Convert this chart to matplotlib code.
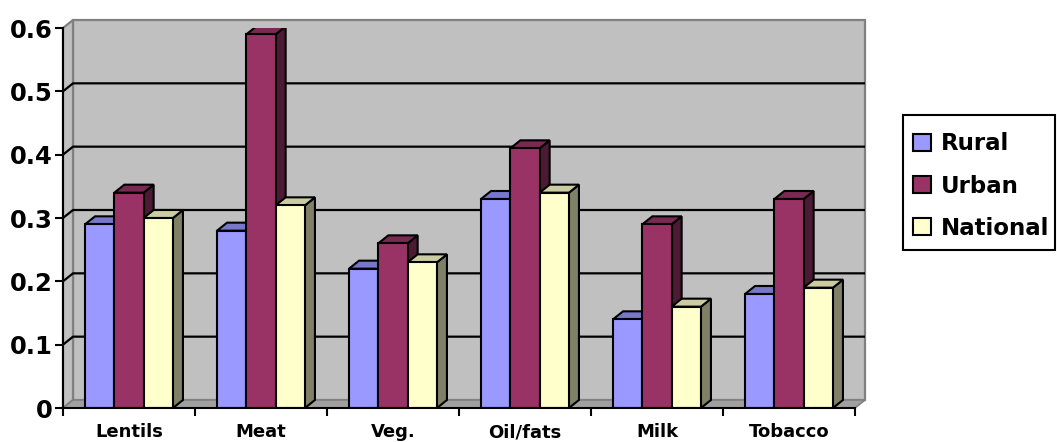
import matplotlib.pyplot as plt
from matplotlib.patches import Polygon, Rectangle, Patch
import numpy as np

# Data
categories = ["Lentils", "Meat", "Veg.", "Oil/fats", "Milk", "Tobacco"]
series = ["Rural", "Urban", "National"]
rural = [0.29, 0.28, 0.22, 0.33, 0.14, 0.18]
urban = [0.34, 0.59, 0.26, 0.41, 0.29, 0.33]
national = [0.30, 0.32, 0.23, 0.34, 0.16, 0.19]
y_ticks = [0, 0.1, 0.2, 0.3, 0.4, 0.5, 0.6]

# Excel-like colours: front, top, side
colors = {
    "Rural": ("#9999FF", "#7777CC", "#4D4D80"),
    "Urban": ("#993366", "#7A2952", "#4D1A33"),
    "National": ("#FFFFCC", "#CCCCA3", "#808066"),
}

W, H = 1057, 442
fig = plt.figure(figsize=(W / 100, H / 100), dpi=100)
plt.rcParams['font.family'] = ['DejaVu Sans']
ax = fig.add_axes([63 / W, 34 / H, 792 / W, 380 / H])
ax.set_xlim(-0.5, len(categories) - 0.5)
ax.set_ylim(0, 0.6)

# depth offsets in data units (about 10 px right, 8 px up)
dx = 10 / 132
dy = 8 / 633.3
x0, x1 = -0.5, len(categories) - 0.5
top = y_ticks[-1]

# walls and floor
ax.add_patch(Rectangle((x0 + dx, dy), x1 - x0, top, facecolor="#C0C0C0",
                       edgecolor="#808080", lw=1.6, zorder=0, clip_on=False))
ax.add_patch(Polygon([(x0, 0), (x0 + dx, dy), (x0 + dx, top + dy), (x0, top)],
                     facecolor="#C0C0C0", edgecolor="#808080", lw=1.6, zorder=0, clip_on=False))
ax.add_patch(Polygon([(x0, 0), (x1, 0), (x1 + dx, dy), (x0 + dx, dy)],
                     facecolor="#A0A0A0", edgecolor="#808080", lw=1.2, zorder=0.5, clip_on=False))

# gridlines on back and side wall
for v in y_ticks[1:-1]:
    ax.plot([x0, x0 + dx, x1 + dx], [v, v + dy, v + dy], color="black", lw=1.6,
            zorder=1, clip_on=False, solid_capstyle="butt")

# 3D bars
bar_w = 0.222
offsets = [-1.5 * bar_w, -0.5 * bar_w, 0.5 * bar_w]
values = [rural, urban, national]
for i in range(len(categories)):
    for j, name in enumerate(series):
        front, topc, side = colors[name]
        left = i + offsets[j]
        right = left + bar_w
        v = values[j][i]
        z = 2 + i * 0.1 + j * 0.01
        ax.add_patch(Polygon([(right, 0), (right + dx, dy), (right + dx, v + dy), (right, v)],
                             facecolor=side, edgecolor="black", lw=1.5, zorder=z, joinstyle="miter"))
        ax.add_patch(Polygon([(left, v), (right, v), (right + dx, v + dy), (left + dx, v + dy)],
                             facecolor=topc, edgecolor="black", lw=1.5, zorder=z, joinstyle="miter"))
        ax.add_patch(Rectangle((left, 0), bar_w, v, facecolor=front, edgecolor="black",
                               lw=1.5, zorder=z + 0.001, joinstyle="miter"))

# axes styling
for s in ["top", "right"]:
    ax.spines[s].set_visible(False)
ax.spines["left"].set_linewidth(1.5)
ax.spines["bottom"].set_linewidth(1.5)
ax.spines["left"].set_zorder(5)
ax.spines["bottom"].set_zorder(5)
ax.set_facecolor("none")

ax.set_yticks(y_ticks)
ax.set_yticklabels(["0" if t == 0 else f"{t:.1f}" for t in y_ticks],
                   fontsize=17.5, fontweight="bold")
ax.tick_params(axis="y", direction="out", length=5.5, width=1.5, pad=2)

ax.set_xticks(np.arange(len(categories)))
ax.set_xticklabels(categories, fontsize=13, fontweight="bold")
ax.set_xticks(np.arange(len(categories) + 1) - 0.5, minor=True)
ax.tick_params(axis="x", which="major", length=0, pad=11)
ax.tick_params(axis="x", which="minor", direction="out", length=6, width=1.5)

# legend box drawn separately so its size matches the original
fig.add_artist(Rectangle((903 / W, 1 - 250 / H), 152 / W, 135 / H, transform=fig.transFigure,
                         facecolor="white", edgecolor="black", lw=1.5))
handles = [Patch(facecolor=colors[s][0], edgecolor="black", lw=1.5) for s in series]
leg = fig.legend(handles, series, loc="upper left", bbox_to_anchor=(903 / W, 1 - 122 / H),
                 borderaxespad=0, frameon=False,
                 prop={"size": 16.5, "weight": "bold"}, handlelength=0.75, handleheight=0.75,
                 handletextpad=0.45, labelspacing=0.84, borderpad=0.45)

fig.savefig("out.png", dpi=100)
